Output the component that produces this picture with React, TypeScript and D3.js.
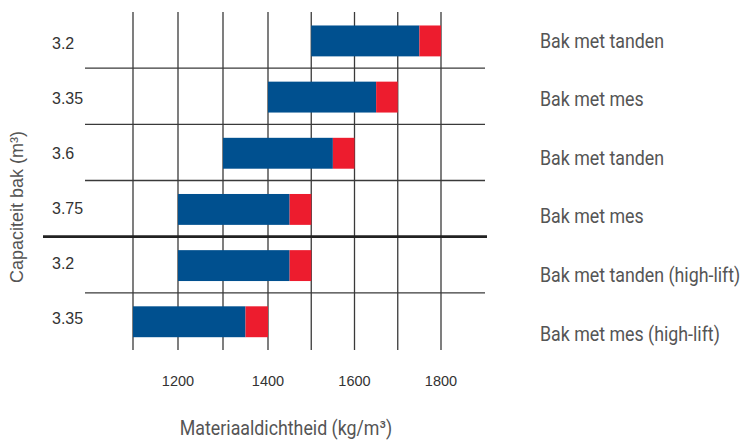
import React from 'react';
import * as d3 from 'd3';

// bucket capacity per row (m3) and the bucket type shown on the right
const capacities = ['3.2', '3.35', '3.6', '3.75', '3.2', '3.35'];
const bucketTypes = [
  'Bak met tanden',
  'Bak met mes',
  'Bak met tanden',
  'Bak met mes',
  'Bak met tanden (high-lift)',
  'Bak met mes (high-lift)',
];
// material density range (kg/m3): blue from min to nominal, red from nominal to max
const densityMin = [1500, 1400, 1300, 1200, 1200, 1100];
const densityNominal = [1750, 1650, 1550, 1450, 1450, 1350];
const densityMax = [1800, 1700, 1600, 1500, 1500, 1400];

const gridTicks = [1100, 1200, 1300, 1400, 1500, 1600, 1700, 1800];
const tickLabels = [1200, 1400, 1600, 1800];
const splitAfter = 3; // thick line between the normal and high-lift rows

const W = 742;
const H = 441;
const BLUE = '#00508f';
const RED = '#ed1c2e';
const GRID = '#3a3a3a';
const condensed = 'Roboto, "Noto Sans", sans-serif';
const plain = '"Liberation Sans", Arial, sans-serif';

const App = () => {
  const rows = capacities.map((_, i) => i);

  // the original grid is a bit wider on the left half
  const x = d3.scaleLinear().domain([1100, 1400, 1800]).range([133, 268, 441]);
  const y = d3.scaleBand<number>().domain(rows).range([12, 349]).padding(0);
  const leftLabelY = d3.scalePoint<number>().domain(rows).range([49, 324]);
  const rightLabelY = d3.scalePoint<number>().domain(rows).range([47.5, 340.5]);

  const bw = y.bandwidth();
  const barTop = (i: number) => (y(i) as number) + bw * 0.24;
  const barH = bw * 0.55;

  return (
    <svg
      width={W}
      height={H}
      style={{ position: 'absolute', left: 0, top: 0, background: '#fff' }}
    >
      {/* vertical grid */}
      {gridTicks.map(t => (
        <line key={'v' + t} x1={x(t)} x2={x(t)} y1={12} y2={350} stroke={GRID} strokeWidth={1.3} />
      ))}

      {/* bars */}
      {rows.map(i => (
        <g key={'b' + i}>
          <rect
            x={x(densityMin[i])}
            y={barTop(i)}
            width={x(densityNominal[i]) - x(densityMin[i])}
            height={barH}
            fill={BLUE}
          />
          <rect
            x={x(densityNominal[i])}
            y={barTop(i)}
            width={x(densityMax[i]) - x(densityNominal[i])}
            height={barH}
            fill={RED}
          />
        </g>
      ))}

      {/* row separators */}
      {rows.slice(1).map(i => {
        const thick = i === splitAfter + 1;
        const yy = y(i) as number;
        return (
          <line
            key={'h' + i}
            x1={thick ? 43 : 85}
            x2={thick ? 487 : 485}
            y1={yy}
            y2={yy}
            stroke={thick ? '#222' : GRID}
            strokeWidth={thick ? 2.6 : 1.3}
          />
        );
      })}

      {/* capacity labels */}
      {rows.map(i => (
        <text
          key={'c' + i}
          x={52}
          y={leftLabelY(i)}
          fontFamily={plain}
          fontSize={16}
          fill="#333"
        >
          {capacities[i]}
        </text>
      ))}

      {/* bucket type labels */}
      {rows.map(i => (
        <g key={'t' + i} transform={`translate(540,${rightLabelY(i)}) scale(0.89,1)`}>
          <text fontFamily={condensed} fontSize={20} fill="#555">
            {bucketTypes[i]}
          </text>
        </g>
      ))}

      {/* x tick labels */}
      {tickLabels.map(t => (
        <text
          key={'x' + t}
          x={x(t)}
          y={386}
          textAnchor="middle"
          fontFamily={plain}
          fontSize={14.5}
          fill="#333"
        >
          {t}
        </text>
      ))}

      {/* axis titles */}
      <g transform="translate(286,435) scale(0.89,1)">
        <text textAnchor="middle" fontFamily={condensed} fontSize={20} fill="#555">
          Materiaaldichtheid (kg/m³)
        </text>
      </g>
      <text
        transform="translate(23,207) rotate(-90)"
        textAnchor="middle"
        fontFamily={plain}
        fontSize={18}
        fill="#555"
      >
        Capaciteit bak (m³)
      </text>
    </svg>
  );
};

export default App;
